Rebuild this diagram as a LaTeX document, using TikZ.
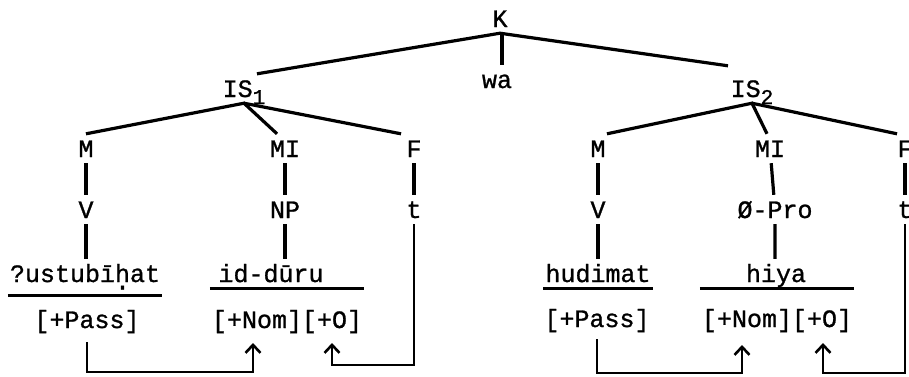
\documentclass[tikz,border=0pt]{standalone}
\usepackage{fontspec}
\newfontfamily\twfont{Liberation Mono}[FakeBold=1]
\usetikzlibrary{arrows.meta,positioning}
\newcommand{\tw}{\twfont\fontsize{25}{30}\selectfont}
\newcommand{\sbs}[1]{\raisebox{-7pt}{\fontsize{21}{21}\selectfont#1}}
\newcommand{\hdot}{\ooalign{h\cr\hidewidth\raisebox{-0.3em}{.}\hidewidth\cr}}

\begin{document}
\begin{tikzpicture}[x=1pt, y=-1pt,
    lab/.style={font=\tw, anchor=base, inner xsep=2pt, inner ysep=6pt, text height=17pt, text depth=0pt},
    branch/.style={line width=3.2pt},
    link/.style={line width=2.6pt, -{Straight Barb[length=8pt, width=15pt]}}]
    \useasboundingbox (0,0) rectangle (909,376);
    \node[lab] (K) at (500,27) {K};
    \node[lab] (wa) at (497,88) {wa};
    \node[lab] (IS1) at (244,97) {IS\sbs{1}};
    \node[lab] (IS2) at (752,97) {IS\sbs{2}};
    % first clause
    \node[lab] (M1) at (86,157) {M}; \node[lab] (MI1) at (285,157) {MI}; \node[lab] (F1) at (414,157) {F};
    \node[lab] (V1) at (86,218) {V}; \node[lab] (NP) at (285,218) {NP}; \node[lab] (t1) at (414,218) {t};
    \node[lab] (w1) at (85,282) {?ustub\={\i}\hdot at}; \node[lab] (w2) at (271,282) {id-d\=uru};
    \node[lab] (f1) at (87,328) {[+Pass]}; \node[lab] (f2) at (287,328) {[+Nom][+O]};
    % second clause
    \node[lab] (M2) at (598,157) {M}; \node[lab] (MI2) at (770,157) {MI}; \node[lab] (F2) at (905,157) {F};
    \node[lab] (V2) at (598,218) {V}; \node[lab] (Pro) at (775,218) {Ø-Pro}; \node[lab] (t2) at (905,218) {t};
    \node[lab] (w3) at (598,282) {hudimat}; \node[lab] (w4) at (776,282) {hiya};
    \node[lab] (f3) at (597,327) {[+Pass]}; \node[lab] (f4) at (777,327) {[+Nom][+O]};
    \coordinate (n1) at (253,343); \coordinate (o1) at (332,343);
    \coordinate (n2) at (742,345); \coordinate (o2) at (823,343);

    \draw[branch] ([xshift=13pt]IS1.north) -- (K.south) -- ([shift={(-24,-8)}]IS2.north);
    \draw[branch] ([xshift=2pt]K.south) -- ([xshift=2pt]K.south |- wa.north);
    \draw[branch] (M1.north) -- (IS1.south) -- ([xshift=-8pt]MI1.north);
    \draw[branch] (IS1.south) -- ([xshift=-13pt]F1.north);
    \draw[branch] ([xshift=9pt]M2.north) -- (IS2.south) -- ([xshift=-3pt]MI2.north);
    \draw[branch] (IS2.south) -- ([xshift=-8pt]F2.north);
    \draw[branch] (M1) -- (V1) -- (V1.south |- w1.north);
    \draw[branch] (MI1) -- (NP) -- (NP.south |- w2.north);
    \draw[branch] (F1) -- (t1);
    \draw[branch] (M2) -- (V2) -- (w3);
    \draw[branch] (MI2) -- (Pro) -- (Pro.south |- w4.north);
    \draw[branch] (F2) -- (t2);
    \draw[branch] ([yshift=-7pt]w1.south west) -- ([yshift=-7pt]w1.south east);
    \draw[branch] (f2.west |- w2.south) -- (f2.east |- w2.south);
    \draw[branch] (w3.south west) -- (w3.south east);
    \draw[branch] (f4.west |- w4.south) -- (f4.east |- w4.south);

    \draw[link] ([yshift=-8pt]f1.south) -- (f1.south |- 0,372) -| (n1);
    \draw[link] (t1.south) -- (t1.south |- 0,365) -| (o1);
    \draw[link] ([yshift=-6pt]f3.south) -- (f3.south |- 0,373) -| (n2);
    \draw[link] (t2.south) -- (t2.south |- 0,373) -| (o2);
\end{tikzpicture}
\end{document}
